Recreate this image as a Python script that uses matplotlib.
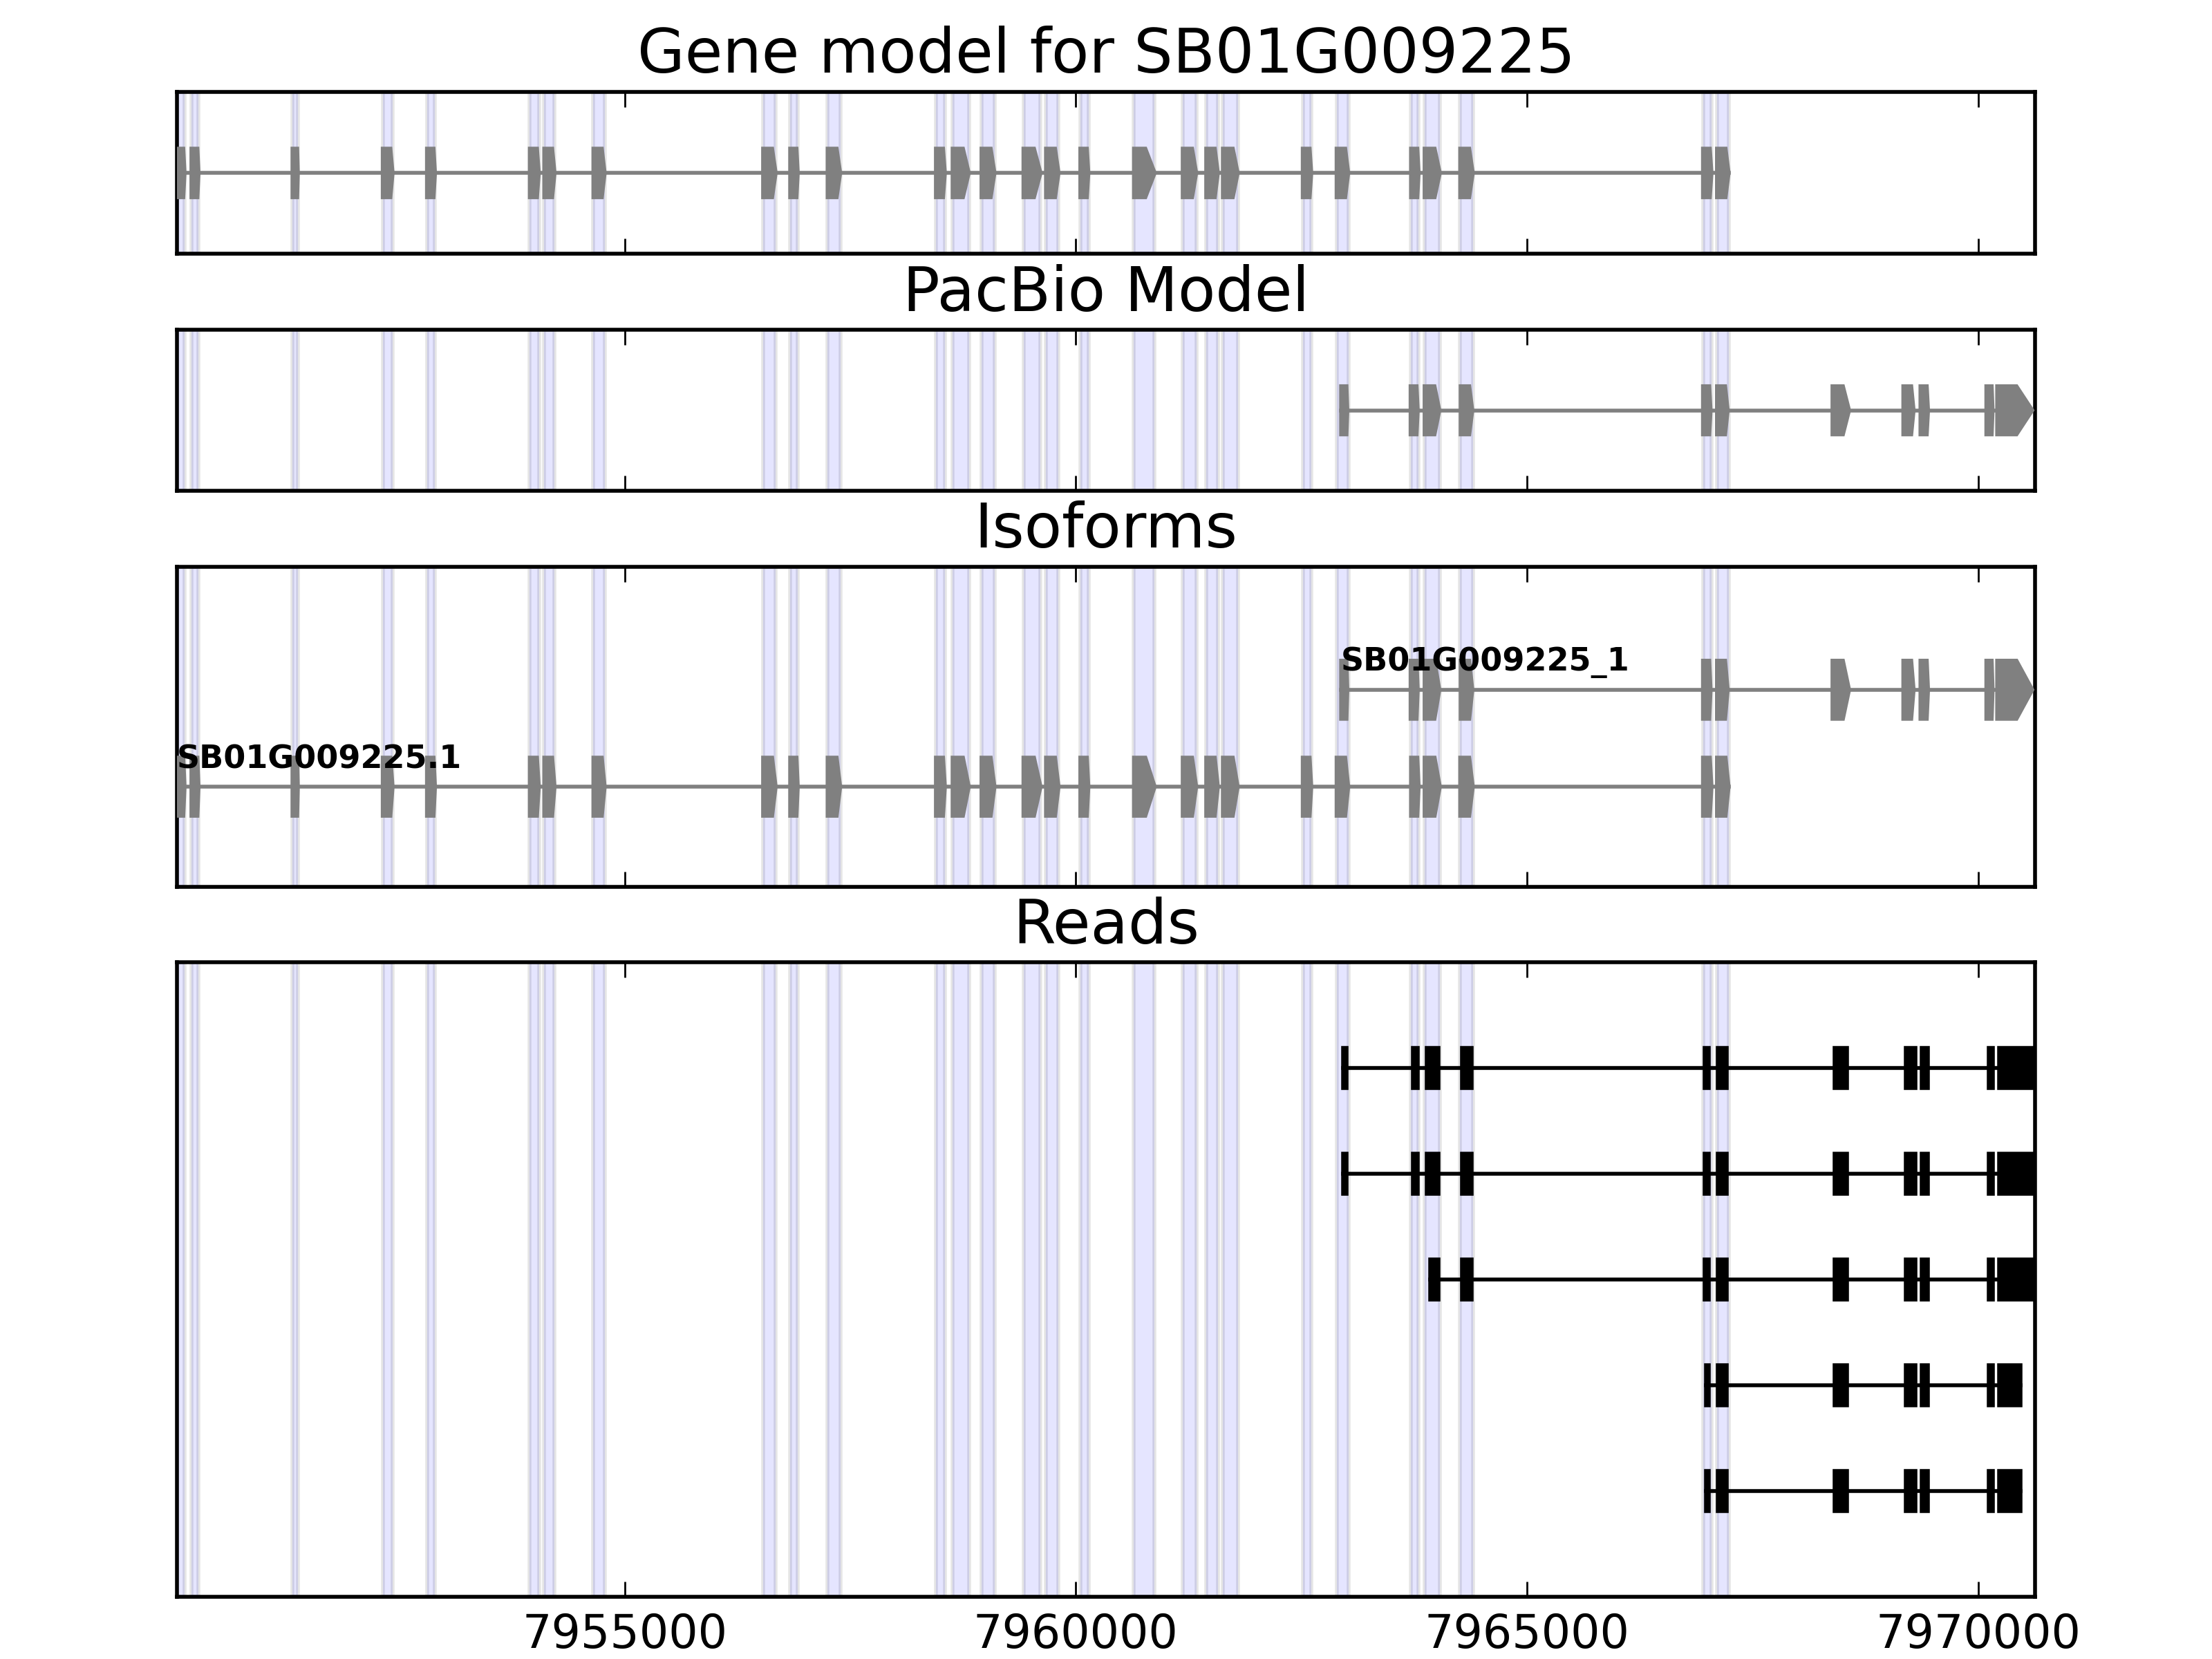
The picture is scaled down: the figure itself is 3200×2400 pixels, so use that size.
import matplotlib
matplotlib.use('Agg')
import matplotlib.pyplot as plt
from matplotlib.patches import Polygon, Rectangle

plt.style.use('classic')

# region shown
region = (7950040, 7970630)
gene_name = 'SB01G009225'

# gene model exons (start, end)
gene_exons = [(7950040, 7950125), (7950200, 7950280), (7951320, 7951380),
              (7952320, 7952430), (7952810, 7952900), (7953950, 7954050),
              (7954110, 7954225), (7954655, 7954780), (7956535, 7956675),
              (7956835, 7956920), (7957250, 7957390), (7958450, 7958550),
              (7958635, 7958815), (7958955, 7959100), (7959420, 7959610),
              (7959670, 7959810), (7960050, 7960140), (7960645, 7960875),
              (7961185, 7961335), (7961445, 7961575), (7961630, 7961795),
              (7962515, 7962610), (7962890, 7963020), (7963715, 7963800),
              (7963865, 7964035), (7964260, 7964400), (7966950, 7967045),
              (7967105, 7967235)]

# pacbio model exons
pacbio_exons = [(7962940, 7963010), (7963710, 7963790), (7963865, 7964030),
                (7964265, 7964395), (7966950, 7967035), (7967105, 7967225),
                (7968385, 7968570), (7969170, 7969285), (7969360, 7969445),
                (7970090, 7970160), (7970210, 7970600)]

# isoforms: name -> exons
isoform_names = ['SB01G009225.1', 'SB01G009225_1']
isoform_exons = [gene_exons, pacbio_exons]

# reads, top to bottom
reads = [
    [(7962960, 7963000), (7963735, 7963790), (7963890, 7964020), (7964280, 7964385),
     (7966970, 7967015), (7967115, 7967210), (7968405, 7968550), (7969200, 7969305),
     (7969375, 7969440), (7970120, 7970160), (7970235, 7970640)],
    [(7962960, 7963000), (7963735, 7963790), (7963890, 7964020), (7964280, 7964385),
     (7966970, 7967015), (7967115, 7967210), (7968405, 7968550), (7969200, 7969305),
     (7969375, 7969440), (7970120, 7970160), (7970235, 7970640)],
    [(7963925, 7964020), (7964280, 7964385),
     (7966970, 7967015), (7967115, 7967210), (7968405, 7968550), (7969200, 7969305),
     (7969375, 7969440), (7970120, 7970160), (7970235, 7970640)],
    [(7966985, 7967015), (7967115, 7967210), (7968405, 7968550), (7969200, 7969305),
     (7969375, 7969440), (7970120, 7970160), (7970235, 7970470)],
    [(7966985, 7967015), (7967115, 7967210), (7968405, 7968550), (7969200, 7969305),
     (7969375, 7969440), (7970120, 7970160), (7970235, 7970470)],
]

xticks = [7955000, 7960000, 7965000, 7970000]


def exon_arrow(s, e, y, h):
    L = e - s
    head = L * min(0.45, L / 500.)
    return [(s, y - h / 2), (e - head, y - h / 2), (e, y),
            (e - head, y + h / 2), (s, y + h / 2)]


def draw_model(ax, exons, y, color='gray', h=0.6, label=None):
    ax.plot([exons[0][0], exons[-1][1]], [y, y], color=color, lw=1, zorder=2)
    for s, e in exons:
        ax.add_patch(Polygon(exon_arrow(s, e, y, h), closed=True,
                             facecolor=color, edgecolor=color, lw=1, zorder=3))
    if label:
        ax.text(exons[0][0], y + h / 2 - 0.02, label, fontsize=8.3, fontweight='bold',
                ha='left', va='center', zorder=4)


def draw_read(ax, exons, y, h=0.38):
    ax.plot([exons[0][0], exons[-1][1]], [y, y], color='black', lw=1, zorder=2)
    for s, e in exons:
        ax.add_patch(Rectangle((s, y - h / 2), e - s, h, facecolor='black',
                               edgecolor='black', lw=1, zorder=3))


fig = plt.figure(figsize=(8, 6), dpi=400, facecolor='white')
gs = fig.add_gridspec(4, 1, height_ratios=[115, 114, 227, 450], left=0.08, right=0.92,
                      bottom=0.0375, top=0.9446, hspace=0.238)
axes = [fig.add_subplot(gs[i]) for i in range(4)]

draw_model(axes[0], gene_exons, 1)
axes[0].set_ylim(0, 2)
axes[0].set_title('Gene model for ' + gene_name, fontsize=16)

draw_model(axes[1], pacbio_exons, 1)
axes[1].set_ylim(0, 2)
axes[1].set_title('PacBio Model', fontsize=16)

for i, (name, ex) in enumerate(zip(isoform_names, isoform_exons)):
    draw_model(axes[2], ex, i + 1, label=name)
axes[2].set_ylim(-0.03, 3.27)
axes[2].set_title('Isoforms', fontsize=16)

for i, r in enumerate(reads):
    draw_read(axes[3], r, len(reads) - i)
axes[3].set_ylim(0, len(reads) + 1)
axes[3].set_title('Reads', fontsize=16)

for k, ax in enumerate(axes):
    # shade gene model exons
    for s, e in gene_exons:
        ax.axvspan(s, e, facecolor='blue', edgecolor='black', lw=1, alpha=0.1, zorder=0)
    ax.set_xlim(region)
    ax.set_xticks(xticks)
    ax.set_yticks([])
    ax.ticklabel_format(axis='x', useOffset=False, style='plain')
    ax.tick_params(axis='x', direction='in', top=True, bottom=True,
                   labelbottom=(k == 3), labelsize=12)

fig.savefig('out.png', dpi=400, facecolor='white')
